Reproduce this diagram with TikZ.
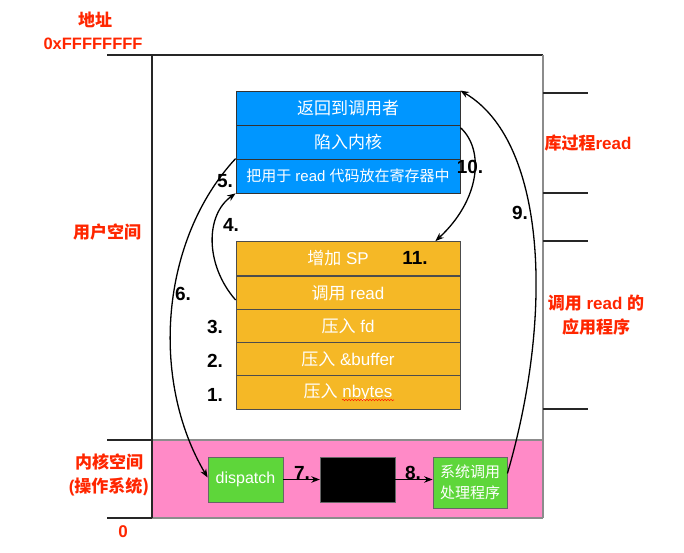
\documentclass[tikz,border=0pt]{standalone}
\usepackage{fontspec}
\setmainfont{Liberation Sans}
\newfontfamily\cjk{Noto Sans CJK SC}
\usetikzlibrary{arrows.meta,decorations.pathmorphing}
\definecolor{cblue}{RGB}{0,150,255}
\definecolor{corange}{RGB}{245,184,38}
\definecolor{cpink}{RGB}{255,138,199}
\definecolor{cgreen}{RGB}{94,214,58}
\definecolor{cred}{RGB}{255,38,0}
\definecolor{cgray}{RGB}{140,140,140}
\tikzset{
  bluerow/.style={draw=black!80, fill=cblue, text=white, minimum width=224pt, minimum height=34pt, inner sep=0pt, line width=0.8pt, font=\fontsize{17}{20}\selectfont},
  orow/.style={draw=black!70, fill=corange, text=white, minimum width=224pt, minimum height=34pt, inner sep=0pt, line width=0.8pt, font=\fontsize{17}{20}\selectfont},
  kbox/.style={draw=black!60, fill=cgreen, text=white, inner sep=0pt, line width=0.8pt, font=\fontsize{15}{21}\selectfont, align=center},
  redlab/.style={text=cred, font=\bfseries\fontsize{17}{24}\selectfont, align=center, inner sep=0pt},
  numlab/.style={text=black, font=\bfseries\fontsize{19}{20}\selectfont, inner sep=0pt},
  conn/.style={line width=1.3pt, -{Stealth[length=8.5pt,width=6.5pt]}},
  tick/.style={line width=1.3pt, black!85}
}
\begin{document}
\begin{tikzpicture}[x=1pt,y=-1pt]
\useasboundingbox (0,0) rectangle (684,553);
% kernel region
\fill[cpink] (152,440) rectangle (543,518);
\draw[line width=1.2pt, cgray] (152,440) -- (543,440);
\draw[line width=1.2pt, cgray] (152,518) -- (543,518);
% frame
\draw[line width=1.2pt, black!85] (543,55) -- (152,55) -- (152,518);
\draw[line width=1.5pt, cgray] (543,55) -- (543,518);
% left ticks
\draw[tick] (107,55) -- (152,55);
\draw[tick] (107,440) -- (152,440);
\draw[tick] (107,518) -- (152,518);
% right ticks
\draw[tick] (543,93) -- (588,93);
\draw[tick] (543,193) -- (588,193);
\draw[tick] (543,241) -- (588,241);
\draw[tick] (543,409) -- (588,409);
% blue rows
\node[bluerow] (b1) at (348,108) {\cjk 返回到调用者};
\node[bluerow] (b2) at (348,142) {\cjk 陷入内核};
\node[bluerow, font=\fontsize{15}{18}\selectfont] (b3) at (348,176) {{\cjk 把用于} read {\cjk 代码放在寄存器中}};
% orange rows
\node[orow] (o1) at (348,258.5) {\hspace*{-20pt}{\cjk 增加} SP};
\node[orow] (o2) at (348,293) {{\cjk 调用} read};
\node[orow] (o3) at (348,326) {{\cjk 压入} fd};
\node[orow] (o4) at (348,359) {{\cjk 压入} \&buffer};
\node[orow] (o5) at (348,392.5) {{\cjk 压入} nbytes};
\draw[cred, line width=0.6pt, decorate, decoration={snake, amplitude=0.7pt, segment length=3pt}] (342,400) -- (394,400);
% kernel boxes
\node[kbox, minimum width=75pt, minimum height=45pt, font=\fontsize{16}{20}\selectfont] (disp) at (245.5,479.5) {dispatch};
\node[draw=black!60, fill=black, minimum width=75pt, minimum height=45pt, inner sep=0pt] (blk) at (357.5,479.5) {};
\node[kbox, minimum width=74pt, minimum height=51pt] (hand) at (470,482.5) {\cjk 系统调用\\\cjk 处理程序};
% red labels
\node[redlab] (addr) at (95,20) {\cjk 地址};
\node[redlab, font=\bfseries\fontsize{16.5}{20}\selectfont] (top) at (93,44) {0xFFFFFFFF};
\node[redlab] (user) at (107,232) {\cjk 用户空间};
\node[redlab] (kern) at (109,475) {\cjk 内核空间\\(\cjk 操作系统)};
\node[redlab] (zero) at (123,532) {0};
\node[redlab] (lib) at (588,143) {{\cjk 库过程}read};
\node[redlab] (app) at (596,315) {{\cjk 调用} read {\cjk 的}\\\cjk 应用程序};
% number labels
\node[numlab] (n1) at (215,395) {1.};
\node[numlab] (n2) at (215,361) {2.};
\node[numlab] (n3) at (215,327) {3.};
\node[numlab] (n4) at (231,225) {4.};
\node[numlab] (n5) at (225,181) {5.};
\node[numlab] (n6) at (183,294) {6.};
\node[numlab] (n7) at (302,473) {7.};
\node[numlab] (n8) at (413,473) {8.};
\node[numlab] (n9) at (520,213) {9.};
\node[numlab] (n10) at (470,167) {10.};
\node[numlab] (n11) at (415,258) {11.};
% connectors
\draw[conn] ([yshift=-7pt]o2.west) .. controls (205,265) and (205,215) .. (b3.south west);
\draw[conn] (b3.north west) .. controls (160,240) and (150,380) .. ([yshift=2pt]disp.west);
\draw[conn] (disp.east) -- (blk.west);
\draw[conn] (blk.east) -- (blk.east -| hand.west);
\draw[conn] ([yshift=9pt]hand.east) .. controls (555,310) and (545,140) .. (b1.north east);
\draw[conn] ([yshift=-3pt]b2.north east) .. controls (485,150) and (480,200) .. ([xshift=-25pt]o1.north east);
\end{tikzpicture}
\end{document}
